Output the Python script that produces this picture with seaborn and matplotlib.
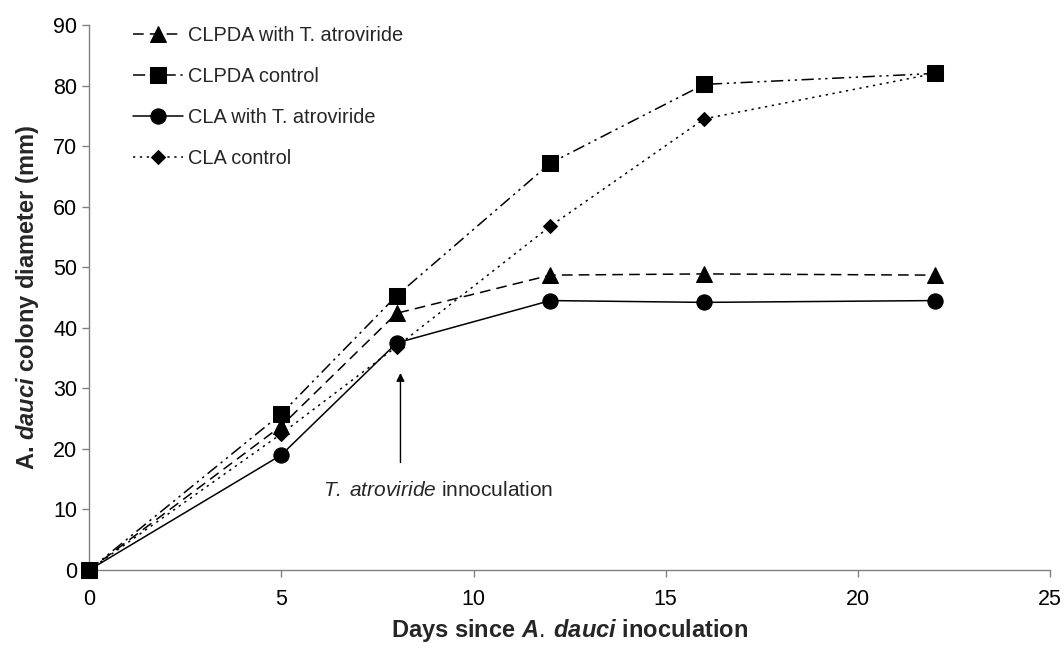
import numpy as np
import pandas as pd
import matplotlib
matplotlib.use("Agg")
import matplotlib.pyplot as plt
import seaborn as sns

days = [0, 5, 8, 12, 16, 22]
clpda_tri = [0, 23.8, 42.4, 48.7, 48.9, 48.7]
clpda_ctrl = [0, 25.8, 45.3, 67.2, 80.2, 82.0]
cla_tri = [0, 19.0, 37.5, 44.5, 44.2, 44.5]
cla_ctrl = [0, 22.5, 36.9, 56.8, 74.5, 82.0]
labels = ["CLPDA with T. atroviride", "CLPDA control", "CLA with T. atroviride", "CLA control"]

sns.set_theme(style="white")
plt.rcParams['font.family'] = ['Liberation Sans', 'DejaVu Sans']
plt.rcParams['mathtext.fontset'] = 'custom'
plt.rcParams['mathtext.it'] = 'Liberation Sans:italic:bold'
plt.rcParams['mathtext.sf'] = 'Liberation Sans:italic'
plt.rcParams['mathtext.rm'] = 'Liberation Sans'
plt.rcParams['mathtext.bf'] = 'Liberation Sans:bold'

fig = plt.figure(figsize=(10.64, 6.5), dpi=100)
ax = fig.add_axes([0.0837, 0.123, 0.9033, 0.8385])

series = [clpda_tri, clpda_ctrl, cla_tri, cla_ctrl]
styles = [
    dict(ls=(0, (7, 4)), marker='^', ms=11),
    dict(ls=(0, (8, 3, 1.5, 3, 1.5, 3)), marker='s', ms=11.5),
    dict(ls='-', marker='o', ms=11),
    dict(ls=(0, (1.5, 3)), marker='D', ms=7.5),
]
for vals, lab, st in zip(series, labels, styles):
    df = pd.DataFrame({"day": days, "val": vals})
    sns.lineplot(data=df, x="day", y="val", ax=ax, color="black", lw=1.1,
                 linestyle=st['ls'], marker=st['marker'], markersize=st['ms'],
                 markeredgecolor='black', markerfacecolor='black', label=lab,
                 clip_on=False, zorder=3)

ax.set_xlim(0, 25)
ax.set_ylim(0, 90)
ax.set_xticks(range(0, 26, 5))
ax.set_yticks(range(0, 91, 10))
for s in ['top', 'right']:
    ax.spines[s].set_visible(False)
for s in ['left', 'bottom']:
    ax.spines[s].set_color('#808080')
    ax.spines[s].set_linewidth(1.0)
ax.tick_params(axis='both', direction='out', length=5, width=1, color='#808080',
               labelsize=15.5, labelcolor='black', bottom=True, left=True)
ax.tick_params(axis='x', pad=9)
ax.tick_params(axis='y', pad=3.5)
ax.set_xlabel(r"Days since $\it{A.\:dauci}$ inoculation", fontsize=17, fontweight='bold', labelpad=5)
ax.set_ylabel(r"A. $\it{dauci}$ colony diameter (mm)", fontsize=17, fontweight='bold', labelpad=9)

ax.annotate("", xy=(8.1, 33), xytext=(8.1, 17.3),
            arrowprops=dict(arrowstyle='-|>', color='black', lw=1.0, mutation_scale=12))
ax.text(9.08, 13.2, r"$\mathsf{T.\:atroviride}$ innoculation", ha='center', va='center', fontsize=15)

leg = ax.legend(loc='upper left', bbox_to_anchor=(0.0275, 1.032), frameon=False, fontsize=14.4,
                labelspacing=1.1, handlelength=2.5, handletextpad=0.25)
fig.savefig("out.png", dpi=100)
